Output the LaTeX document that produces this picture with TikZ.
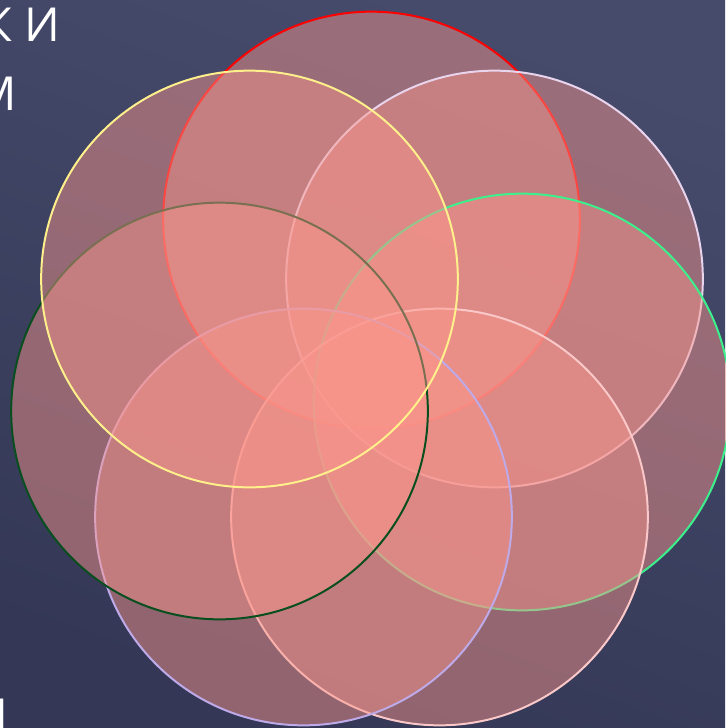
\documentclass[tikz,border=0pt]{standalone}
\usepackage{fontspec}
\setsansfont{Open Sans}
\usepackage{xcolor}
\usetikzlibrary{positioning}
\definecolor{bgTop}{RGB}{70, 75, 108}
\definecolor{bgBottom}{RGB}{52, 56, 86}
\definecolor{petalFill}{RGB}{250, 150, 140}
\definecolor{lnRed}{RGB}{255, 0, 0}
\definecolor{lnWhite}{RGB}{232, 212, 236}
\definecolor{lnGreen}{RGB}{60, 240, 140}
\definecolor{lnPink}{RGB}{250, 200, 200}
\definecolor{lnLav}{RGB}{190, 170, 232}
\definecolor{lnDark}{RGB}{8, 78, 30}
\definecolor{lnYellow}{RGB}{255, 240, 140}

\begin{document}
\begin{tikzpicture}[x=0.03cm, y=-0.03cm,
    petal/.style={circle, inner sep=0pt, minimum size=12.5cm, line width=1.7pt,
                  fill=petalFill, fill opacity=0.47, draw opacity=1},
    cut/.style={anchor=base east, text=white, font=\sffamily\fontsize{40}{42}\selectfont}]
        % background
        \useasboundingbox (0,0) rectangle (725,728);
        \shade[top color=bgTop, bottom color=bgBottom, shading angle=-20] (0,0) rectangle (725,728);
        % title fragments cut by the left edge
        \node[cut] (t1) at (64,42) {К И};
        \node[cut] (t2) at (21,110) {М};
        \node[cut] (t3) at (12,732) {Я};
        % seven overlapping circles
        \node[petal, draw=lnRed] (cRed) at (371.5,220) {};
        \node[petal, draw=lnWhite] (cWhite) at (494.5,279) {};
        \node[petal, draw=lnGreen] (cGreen) at (522,402) {};
        \node[petal, draw=lnPink] (cPink) at (439.5,517) {};
        \node[petal, draw=lnLav] (cLav) at (303.5,517) {};
        \node[petal, draw=lnDark] (cDark) at (219.5,411) {};
        \node[petal, draw=lnYellow] (cYellow) at (249.5,279) {};
    \end{tikzpicture}
\end{document}
